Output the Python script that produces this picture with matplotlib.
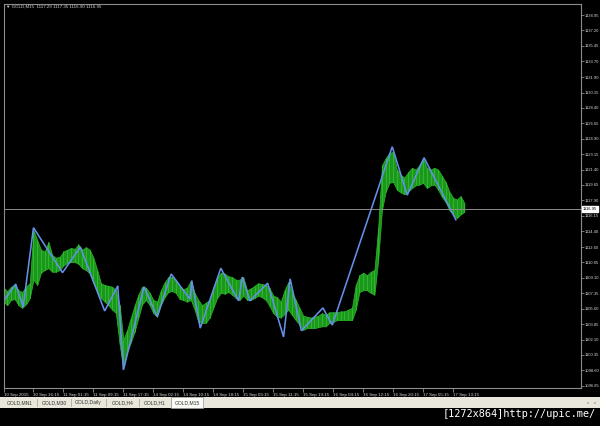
import matplotlib as mpl
mpl.use('Agg')
import matplotlib.pyplot as plt
from matplotlib.patches import Rectangle
import numpy as np

W, H = 600, 426

plt.rcParams['font.family'] = ['Liberation Sans', 'DejaVu Sans']

# GOLD M15 - high/low of the bars, one sample every 4 bars
bar_step = 4
hi = [1108.0, 1107.6, 1108.1, 1108.3, 1107.7, 1107.5, 1108.1, 1108.5, 1114.5, 1113.4,
      1112.3, 1112.1, 1113.2, 1111.7, 1111.4, 1111.5, 1112.1, 1112.3, 1112.5, 1112.4,
      1112.9, 1112.3, 1112.6, 1112.3, 1111.4, 1110.0, 1108.5, 1108.3, 1108.2, 1108.1,
      1107.7, 1106.0, 1102.1, 1103.2, 1104.6, 1106.0, 1107.2, 1108.1, 1108.0, 1107.4,
      1106.6, 1106.4, 1107.7, 1108.6, 1109.2, 1109.2, 1108.9, 1108.2, 1107.8, 1108.0,
      1108.8, 1107.4, 1106.6, 1106.0, 1106.3, 1106.6, 1108.0, 1109.1, 1109.7, 1109.6,
      1109.3, 1109.2, 1108.9, 1108.9, 1109.2, 1107.7, 1107.9, 1108.2, 1108.5, 1108.4,
      1108.3, 1107.9, 1107.1, 1106.9, 1106.4, 1107.7, 1108.6, 1107.5, 1106.6, 1105.7,
      1104.8, 1104.7, 1104.6, 1104.7, 1104.8, 1105.1, 1104.9, 1105.2, 1105.2, 1105.2,
      1105.3, 1105.3, 1105.5, 1105.7, 1108.3, 1109.4, 1109.7, 1109.4, 1109.8, 1110.0,
      1114.8, 1121.9, 1122.7, 1123.3, 1123.4, 1121.4, 1120.8, 1120.5, 1121.1, 1121.6,
      1121.4, 1121.9, 1122.7, 1121.6, 1121.4, 1121.6, 1121.4, 1120.7, 1120.0, 1118.9,
      1118.2, 1118.0, 1118.4, 1117.6]
lo = [1106.4, 1106.0, 1106.6, 1106.7, 1106.0, 1105.7, 1106.1, 1106.8, 1108.9, 1108.3,
      1109.7, 1110.0, 1110.2, 1109.8, 1109.8, 1110.0, 1110.5, 1110.8, 1110.9, 1110.9,
      1110.7, 1110.2, 1110.0, 1109.6, 1108.5, 1107.5, 1106.8, 1106.4, 1106.0, 1105.5,
      1105.1, 1101.5, 1098.9, 1100.7, 1101.8, 1103.0, 1104.6, 1106.1, 1106.6, 1106.0,
      1105.1, 1104.7, 1106.0, 1106.9, 1107.5, 1107.6, 1107.4, 1106.7, 1106.6, 1106.4,
      1106.6, 1105.5, 1104.1, 1104.0, 1104.0, 1104.6, 1105.7, 1106.8, 1107.4, 1107.3,
      1107.5, 1107.2, 1106.8, 1106.6, 1107.1, 1106.6, 1106.6, 1106.8, 1107.1, 1106.9,
      1106.6, 1105.9, 1105.1, 1104.7, 1104.6, 1105.0, 1105.5, 1104.9, 1104.3, 1103.8,
      1103.2, 1103.4, 1103.4, 1103.4, 1103.5, 1103.6, 1103.6, 1104.0, 1104.1, 1104.3,
      1104.3, 1104.3, 1104.3, 1104.3, 1105.5, 1107.5, 1107.7, 1107.7, 1107.4, 1107.2,
      1111.1, 1116.8, 1118.9, 1119.9, 1120.0, 1119.1, 1118.8, 1118.6, 1118.9, 1119.3,
      1119.6, 1119.7, 1119.9, 1119.3, 1119.6, 1119.7, 1119.1, 1118.3, 1117.7, 1116.8,
      1116.3, 1115.9, 1116.3, 1116.6]

# zigzag turning points (bar index, price)
zz_bar = [1, 13, 21, 32, 63, 82, 108, 122, 128, 150, 164, 179, 199, 201, 210, 232,
          251, 255, 263, 282, 299, 306, 318, 341, 351, 415, 431, 449, 483]
zz_price = [1106.6, 1108.4, 1105.8, 1114.8, 1109.7, 1112.6, 1105.35, 1108.2, 1098.65,
            1108.1, 1104.7, 1109.55, 1106.7, 1108.8, 1103.4, 1110.2, 1106.5, 1109.2,
            1106.5, 1108.5, 1102.4, 1109.0, 1103.1, 1105.7, 1103.75, 1124.0, 1118.5,
            1122.75, 1115.7]

last_price = 1116.95
header = u'\u25bc GOLD,M15  1117.29 1117.35 1116.90 1116.95'

price_ticks = [1138.95, 1137.20, 1135.45, 1133.70, 1131.90, 1130.15, 1128.40, 1126.65,
               1124.90, 1123.15, 1121.40, 1119.65, 1117.90, 1116.15, 1114.40, 1112.60,
               1110.85, 1109.10, 1107.35, 1105.60, 1103.85, 1102.10, 1100.35, 1098.60,
               1096.85]
time_bars = [0, 32, 64, 96, 128, 160, 192, 224, 256, 288, 320, 352, 384, 416, 448, 480]
time_labels = ['10 Sep 2015', '10 Sep 16:15', '11 Sep 01:15', '11 Sep 09:15',
               '11 Sep 17:15', '14 Sep 02:15', '14 Sep 10:15', '14 Sep 18:15',
               '15 Sep 03:15', '15 Sep 11:15', '15 Sep 19:15', '16 Sep 04:15',
               '16 Sep 12:15', '16 Sep 20:15', '17 Sep 05:15', '17 Sep 13:15']
tabs = ['GOLD,MN1', 'GOLD,M30', 'GOLD,Daily', 'GOLD,H4', 'GOLD,H1', 'GOLD,M15']

barColor = '#1c961c'
barEdge = '#2cba2c'
zigzagColor = '#6490e8'
gridColor = '#8c8c8c'
textColor = '#d8d8d8'

fig = plt.figure(figsize=(W / 100., H / 100.), dpi=100, facecolor='black')

#main chart window
ax = fig.add_axes([3.5 / W, 38. / H, 577. / W, 384. / H], facecolor='black')
bars = np.arange(len(hi)) * bar_step
ax.fill_between(bars, lo, hi, color=barColor, lw=0.5, ec=barEdge)
ax.vlines(bars, lo, hi, color=barEdge, lw=0.7)
ax.plot(zz_bar, zz_price, color=zigzagColor, lw=1.15, solid_joinstyle='miter')
ax.axhline(last_price, color=gridColor, lw=0.7)

ax.set_xlim(0.5, 616)
ax.set_ylim(1096.6, 1140.2)
for s in ax.spines.values():
    s.set_color(gridColor)
    s.set_linewidth(0.8)

ax.yaxis.tick_right()
ax.set_yticks(price_ticks)
ax.set_yticklabels(['%.2f' % p for p in price_ticks])
ax.tick_params(axis='y', length=2, width=0.6, color=gridColor, labelsize=3.0,
               labelcolor=textColor, pad=1.0)
ax.set_xticks(time_bars)
ax.set_xticklabels(time_labels, ha='left')
ax.tick_params(axis='x', length=3, width=0.6, color=gridColor, labelsize=3.2,
               labelcolor=textColor, pad=0.8, direction='out')

#price label box on the axis
ax.text(1.004, last_price, '%.2f' % last_price, transform=ax.get_yaxis_transform(),
        fontsize=3.0, color='black', va='center', ha='left',
        bbox=dict(boxstyle='square,pad=0.25', fc='white', ec='white'))

#header line
fig.text(6. / W, 1 - 7. / H, header, fontsize=3.2, color=textColor, va='center', ha='left')

#tab strip
fig.patches.append(Rectangle((0, 1 - 408. / H), 1, 11. / H, transform=fig.transFigure,
                             fc='#e9e7dc', ec='none'))
edges = [2.7, 37.3, 70.7, 106, 139.3, 170.7, 203.3]
fig.patches.append(Rectangle((edges[5] / W, 1 - 407.5 / H), (edges[6] - edges[5]) / W,
                             11. / H, transform=fig.transFigure, fc='#fbfbf8',
                             ec='#9a9a9a', lw=0.5))
for i, name in enumerate(tabs):
    if i < 5:
        fig.lines.append(plt.Line2D([edges[i + 1] / W] * 2, [1 - 406. / H, 1 - 399. / H],
                                    transform=fig.transFigure, color='#a8a8a0', lw=0.6))
    fig.text((edges[i] + edges[i + 1]) / 2. / W, 1 - 402.5 / H, name, fontsize=3.6,
             color='#303030', ha='center', va='center')
fig.text(587. / W, 1 - 402.5 / H, u'\u25c4', fontsize=2.6, color='#a0a0a0', ha='center',
         va='center', family='DejaVu Sans')
fig.text(595. / W, 1 - 402.5 / H, u'\u25ba', fontsize=2.6, color='#a0a0a0', ha='center',
         va='center', family='DejaVu Sans')

#watermark
fig.text(596. / W, 1 - 414. / H, '[1272x864]http://upic.me/', fontsize=7.4,
         family='DejaVu Sans Mono', color='white', ha='right', va='center')

fig.savefig('out.png', dpi=100, facecolor='black')
